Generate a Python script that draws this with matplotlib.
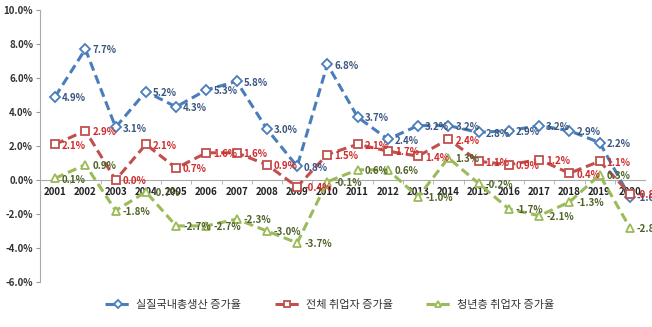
import matplotlib
matplotlib.use("Agg")
import matplotlib.pyplot as plt
from matplotlib.ticker import FuncFormatter, FixedLocator

plt.rcParams['font.family'] = ['Noto Sans CJK KR', 'DejaVu Sans']

years = ['2001', '2002', '2003', '2004', '2005', '2006', '2007', '2008', '2009', '2010',
         '2011', '2012', '2013', '2014', '2015', '2016', '2017', '2018', '2019', '2020']
gdp = [4.9, 7.7, 3.1, 5.2, 4.3, 5.3, 5.8, 3.0, 0.8, 6.8,
       3.7, 2.4, 3.2, 3.2, 2.8, 2.9, 3.2, 2.9, 2.2, -1.0]
emp = [2.1, 2.9, 0.0, 2.1, 0.7, 1.6, 1.6, 0.9, -0.4, 1.5,
       2.1, 1.7, 1.4, 2.4, 1.1, 0.9, 1.2, 0.4, 1.1, -0.8]
youth = [0.1, 0.9, -1.8, -0.7, -2.7, -2.7, -2.3, -3.0, -3.7, -0.1,
         0.6, 0.6, -1.0, 1.3, -0.2, -1.7, -2.1, -1.3, 0.3, -2.8]
names = ['실질국내총생산 증가율', '전체 취업자 증가율', '청년층 취업자 증가율']

fig = plt.figure(figsize=(6.52, 3.27), dpi=100)
ax = fig.add_axes([40/652, 1-282/327, 605/652, 272/327])

series = [
    (gdp, '#4a7ebb', 'D', 5, '#3a5580', names[0]),
    (emp, '#c0504d', 's', 6, '#d02c2c', names[1]),
    (youth, '#9bbb59', '^', 6, '#4f6228', names[2]),
]
x = list(range(len(years)))
handles = []
for vals, col, mk, ms, tcol, nm in series:
    h, = ax.plot(x, vals, color=col, lw=2.2, ls=(0, (3, 1.6)), marker=mk, ms=ms,
                 mfc='white', mec=col, mew=1.3, label=nm, zorder=3)
    handles.append(h)
    for xi, v in zip(x, vals):
        ax.annotate(f'{v:.1f}%', (xi, v), xytext=(5, -1), textcoords='offset points',
                    ha='left', va='center', fontsize=7, color=tcol,
                    fontweight='bold', zorder=4, annotation_clip=False)

ax.set_xlim(-0.5, len(years) - 0.5)
ax.set_ylim(-6, 10)
ax.set_yticks([-6, -4, -2, 0, 2, 4, 6, 8, 10])
ax.yaxis.set_major_formatter(FuncFormatter(lambda v, p: f'{v:.1f}%'))
ax.tick_params(axis='y', labelsize=7, colors='#333333', length=3, width=0.8,
               pad=2)
for lab in ax.get_yticklabels():
    lab.set_fontweight('bold')
ax.tick_params(axis='y', color='#999999')

ax.spines['top'].set_visible(False)
ax.spines['right'].set_visible(False)
ax.spines['left'].set_color('#aaaaaa')
ax.spines['bottom'].set_position(('data', 0))
ax.spines['bottom'].set_color('#aaaaaa')

ax.set_xticks(x)
ax.set_xticklabels(years)
ax.tick_params(axis='x', which='major', length=0, labelsize=7, labelcolor='#222222', pad=5)
ax.xaxis.set_minor_locator(FixedLocator([i + 0.5 for i in range(len(years) - 1)]))
ax.tick_params(axis='x', which='minor', length=3, color='#aaaaaa', direction='out')
for lab in ax.get_xticklabels():
    lab.set_fontweight('bold')

fig.legend(handles=handles, loc='center', bbox_to_anchor=(330/652, 1-305/327), ncol=3,
           frameon=False, fontsize=8, handlelength=2.2, columnspacing=3.0,
           handletextpad=0.6, labelcolor='#333333', markerscale=0.8)

fig.savefig('out.png', dpi=100)
